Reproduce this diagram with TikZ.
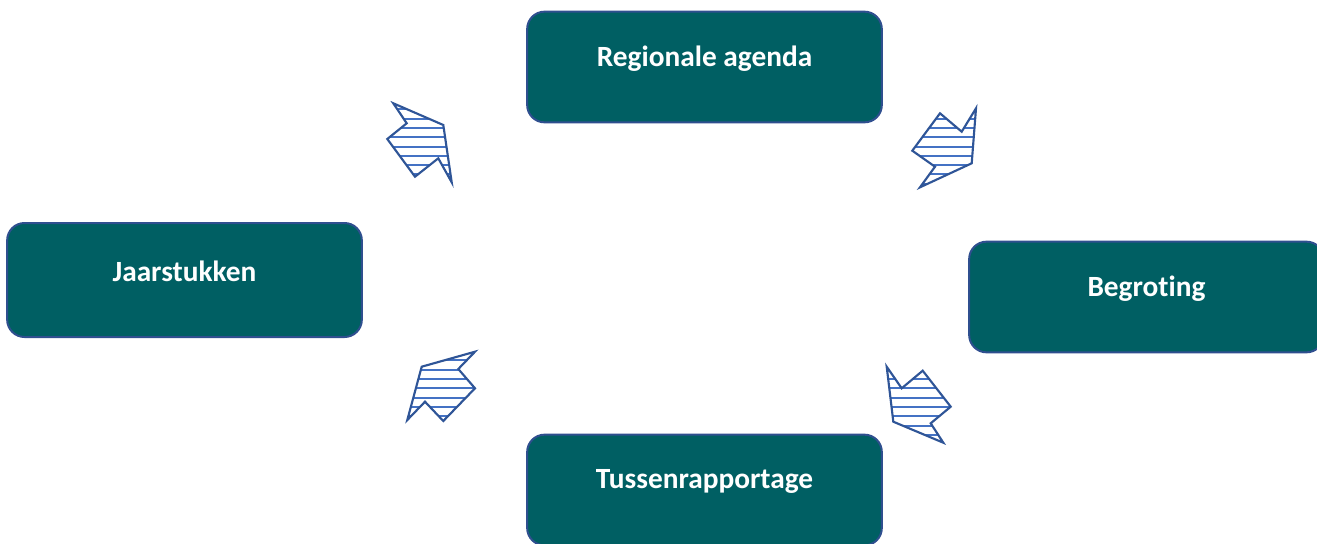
\documentclass[tikz,border=0pt]{standalone}
\usepackage{fontspec}
\setmainfont[RawFeature=-liga]{Carlito}
\usetikzlibrary{positioning}

\definecolor{boxfill}{HTML}{005F63}
\definecolor{boxline}{HTML}{2F4F8F}
\definecolor{hatchblue}{HTML}{4472C4}
\definecolor{shapeblue}{HTML}{2F5597}

% hatched arrow shape: #1 = closed outline
\newcommand{\hatcharrow}[1]{%
    \begin{scope}
        \clip #1 -- cycle;
        \foreach \hy in {100,109.3,...,450}
            \draw[hatch] (380,\hy) -- (980,\hy);
    \end{scope}
    \draw[arrowshape] #1 -- cycle;
}

\begin{document}
\begin{tikzpicture}[
    x=0.75pt, y=-0.75pt,
    % Styles
    box/.style={ % Cycle step
        draw=boxline,
        line width=1.5pt,
        fill=boxfill,
        rounded corners=13pt,
        minimum width=266pt,
        minimum height=83pt,
        inner sep=0pt
    },
    boxtext/.style={ % Step label
        text=white,
        font=\fontsize{22}{26}\selectfont\bfseries
    },
    hatch/.style={
        hatchblue,
        line width=1.5pt
    },
    arrowshape/.style={
        draw=shapeblue,
        line width=1.6pt,
        line join=miter
    }
]
    \useasboundingbox (0,0) rectangle (1317,543);
    \clip (0,0) rectangle (1317,543);

    % Steps of the cycle
    \node[box] (reg) at (704.5,67) {};
    \node[box] (beg) at (1146.5,297) {};
    \node[box] (tus) at (704.5,490) {};
    \node[box, minimum height=85.5pt] (jaar) at (184.5,280) {};

    \node[boxtext] (reg-t) at ([yshift=6.5pt]reg.center) {Regionale agenda};
    \node[boxtext] (beg-t) at ([yshift=6.5pt]beg.center) {Begroting};
    \node[boxtext] (tus-t) at ([yshift=6.5pt]tus.center) {Tussenrapportage};
    \node[boxtext] (jaar-t) at ([yshift=6.5pt]jaar.center) {Jaarstukken};

    % Hatched arrows between the steps
    \hatcharrow{(393.3,103.3) -- (443.3,125) -- (451.7,182.3) -- (438.3,158.3) -- (415,176.7) -- (387.3,139) -- (406.7,123.3)}
    \hatcharrow{(976,108.3) -- (971.7,163.3) -- (920,187.3) -- (935,166.7) -- (912.3,150.7) -- (940,113.3) -- (961.7,131.7)}
    \hatcharrow{(886.7,366.7) -- (901.7,388.3) -- (922.7,370.7) -- (950.7,406.7) -- (930.7,423.3) -- (943.3,442.7) -- (893.3,421.7)}
    \hatcharrow{(475,351.7) -- (458.3,369) -- (475,388.3) -- (443.3,421) -- (425,401.7) -- (407.3,420) -- (421.7,366.7)}
\end{tikzpicture}
\end{document}
